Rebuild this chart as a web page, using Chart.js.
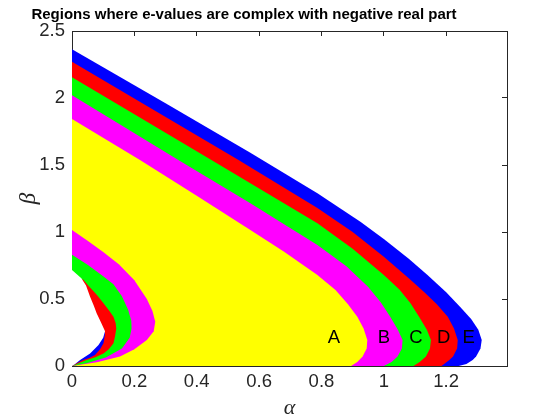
<!DOCTYPE html>
<html>
<head>
<meta charset="utf-8">
<script src="https://cdn.jsdelivr.net/npm/chart.js@4.4.1/dist/chart.umd.min.js"></script>
<style>
  html, body { margin: 0; padding: 0; background: #ffffff; }
  canvas { display: block; }
</style>
</head>
<body>
<canvas id="c" width="560" height="420"></canvas>
<script>
// ---- Data (alpha = x, beta = y) ----
const chartTitle = 'Regions where e-values are complex with negative real part';
const xTicks = [0, 0.2, 0.4, 0.6, 0.8, 1, 1.2];
const yTicks = [0, 0.5, 1, 1.5, 2, 2.5];

// Outer boundaries (curve from beta axis, around the nose, back to beta = 0)
const blueOuterA = [0, 0.3, 0.572, 0.787, 0.926, 1.001, 1.08, 1.14, 1.2, 1.245, 1.28, 1.303, 1.314, 1.31, 1.296, 1.285, 1.265, 1.24, 0];
const blueOuterB = [2.363, 1.96, 1.592, 1.29, 1.075, 0.945, 0.8, 0.68, 0.55, 0.44, 0.35, 0.27, 0.194, 0.13, 0.07, 0.045, 0.015, 0, 0];

const redOuterA = [0, 0.25, 0.534, 0.787, 0.9, 1.0, 1.08, 1.13, 1.17, 1.205, 1.225, 1.237, 1.235, 1.222, 1.21, 1.185, 0];
const redOuterB = [2.27, 1.927, 1.537, 1.18, 1.0, 0.815, 0.655, 0.55, 0.46, 0.368, 0.28, 0.194, 0.13, 0.07, 0.045, 0, 0];

const greenOuterA = [0, 0.2, 0.447, 0.572, 0.787, 0.9, 1.0, 1.05, 1.085, 1.113, 1.138, 1.151, 1.148, 1.135, 1.115, 1.095, 0];
const greenOuterB = [2.154, 1.878, 1.537, 1.363, 1.065, 0.875, 0.68, 0.57, 0.47, 0.368, 0.27, 0.194, 0.13, 0.07, 0.03, 0, 0];

const magentaOuterA = [0, 0.17, 0.341, 0.572, 0.787, 0.88, 0.95, 0.99, 1.02, 1.045, 1.06, 1.058, 1.044, 1.025, 1.0, 0];
const magentaOuterB = [2.02, 1.78, 1.537, 1.214, 0.903, 0.745, 0.59, 0.475, 0.37, 0.27, 0.194, 0.13, 0.07, 0.03, 0, 0];

const yellowOuterA = [0, 0.218, 0.4, 0.572, 0.679, 0.787, 0.845, 0.885, 0.915, 0.935, 0.947, 0.945, 0.932, 0.915, 0.895, 0];
const yellowOuterB = [1.843, 1.537, 1.27, 1.015, 0.855, 0.68, 0.567, 0.46, 0.368, 0.28, 0.194, 0.13, 0.07, 0.03, 0, 0];

// Inner boundaries near the origin
const magentaInnerA = [0, 0.05, 0.1, 0.15, 0.2, 0.24, 0.258, 0.267, 0.262, 0.24, 0.2, 0.154, 0.08, 0];
const magentaInnerB = [1.015, 0.935, 0.85, 0.76, 0.64, 0.5, 0.41, 0.33, 0.26, 0.194, 0.125, 0.07, 0.028, 0];

const greenInnerA = [0, 0.05, 0.1, 0.133, 0.16, 0.18, 0.19, 0.191, 0.185, 0.16, 0.11, 0.05, 0];
const greenInnerB = [0.83, 0.755, 0.67, 0.61, 0.52, 0.42, 0.34, 0.28, 0.21, 0.13, 0.065, 0.022, 0];

const redInnerA = [0, 0.036, 0.052, 0.08, 0.101, 0.12, 0.133, 0.14, 0.142, 0.138, 0.133, 0.118, 0.101, 0.075, 0.047, 0];
const redInnerB = [0.645, 0.645, 0.6, 0.53, 0.468, 0.41, 0.368, 0.32, 0.28, 0.22, 0.169, 0.125, 0.094, 0.065, 0.045, 0];

const blueInnerA = [0.1, 0.106, 0.104, 0.101, 0.09, 0.074, 0.055, 0.036, 0.015, 0];
const blueInnerB = [0.27, 0.244, 0.21, 0.169, 0.125, 0.082, 0.06, 0.045, 0.02, 0];

const whiteInnerA = [0, 0.03, 0.045, 0.058, 0.07, 0.079, 0.092, 0.106, 0.1, 0.085, 0.058, 0.026, 0.01, 0];
const whiteInnerB = [0.716, 0.654, 0.6, 0.517, 0.45, 0.393, 0.33, 0.26, 0.21, 0.157, 0.094, 0.045, 0.015, 0];

// Region labels
const regionLabels = ['A', 'B', 'C', 'D', 'E'];
const labelAlpha = [0.84, 1.0, 1.103, 1.192, 1.272];
const labelBeta = [0.207, 0.207, 0.207, 0.207, 0.207];

// ---- Build chart ----
function pts(A, B) { return A.map((a, i) => ({ x: a, y: B[i] })); }

const layers = [
  { A: blueOuterA, B: blueOuterB, color: '#0000ff' },
  { A: redOuterA, B: redOuterB, color: '#ff0000' },
  { A: greenOuterA, B: greenOuterB, color: '#00ff00' },
  { A: magentaOuterA, B: magentaOuterB, color: '#ff00ff' },
  { A: yellowOuterA, B: yellowOuterB, color: '#ffff00' },
  { A: magentaInnerA, B: magentaInnerB, color: '#ff00ff' },
  { A: greenInnerA, B: greenInnerB, color: '#00ff00' },
  { A: redInnerA, B: redInnerB, color: '#ff0000' },
  { A: blueInnerA, B: blueInnerB, color: '#0000ff' },
  { A: whiteInnerA, B: whiteInnerB, color: '#ffffff' }
];

const datasets = layers.map((L, i) => ({
  data: pts(L.A, L.B),
  showLine: true,
  fill: 'shape',
  backgroundColor: L.color,
  borderColor: 'rgba(0,0,0,0)',
  borderWidth: 0,
  pointRadius: 0,
  pointHoverRadius: 0,
  tension: 0,
  order: layers.length - i
}));

const axisColor = '#262626';
const tickFont = { family: '"Liberation Sans", Arial, sans-serif', size: 18.5 };

const titlePlacer = {
  id: 'titlePlacer',
  afterLayout(chart) {
    if (chart.titleBlock) {
      chart.titleBlock.left = 0;
      chart.titleBlock.right = 488;
    }
  }
};

const regionText = {
  id: 'regionText',
  afterDatasetsDraw(chart) {
    const ctx = chart.ctx;
    const xs = chart.scales.x, ys = chart.scales.y;
    ctx.save();
    ctx.fillStyle = '#000000';
    ctx.font = '18.5px "Liberation Sans", Arial, sans-serif';
    ctx.textAlign = 'center';
    ctx.textBaseline = 'middle';
    regionLabels.forEach((t, i) => {
      ctx.fillText(t, xs.getPixelForValue(labelAlpha[i]), ys.getPixelForValue(labelBeta[i]));
    });
    ctx.restore();
  }
};

function setTicks(list) {
  return (s) => { s.ticks = list.map(v => ({ value: v })); };
}

new Chart(document.getElementById('c'), {
  type: 'line',
  data: { datasets },
  plugins: [titlePlacer, regionText],
  options: {
    responsive: false,
    animation: false,
    devicePixelRatio: 1,
    events: [],
    layout: { padding: { left: 0, right: 53, top: 0, bottom: 0 } },
    plugins: {
      legend: { display: false },
      tooltip: { enabled: false },
      title: {
        display: true,
        text: chartTitle,
        color: '#000000',
        font: { family: '"Liberation Sans", Arial, sans-serif', size: 15, weight: 'bold', lineHeight: 1.2 },
        padding: { top: 6, bottom: 7 }
      }
    },
    scales: {
      x: {
        type: 'linear',
        position: 'bottom',
        min: 0,
        max: 1.395,
        afterBuildTicks: setTicks(xTicks),
        afterFit: (s) => { s.height = 54; },
        ticks: { color: axisColor, font: tickFont, padding: 10, maxRotation: 0, autoSkip: false, callback: (v) => String(v) },
        grid: { drawOnChartArea: false, tickLength: -5, color: axisColor, lineWidth: 1 },
        border: { display: true, color: axisColor, width: 1 },
        title: {
          display: true,
          text: 'α',
          color: axisColor,
          font: { family: '"Liberation Serif", "DejaVu Serif", serif', style: 'italic', size: 22, lineHeight: 1 },
          padding: { top: 0, bottom: 1 }
        }
      },
      y: {
        type: 'linear',
        position: 'left',
        min: 0,
        max: 2.5,
        afterBuildTicks: setTicks(yTicks),
        afterFit: (s) => { s.width = 72; },
        ticks: { color: axisColor, font: tickFont, padding: 12, autoSkip: false, callback: (v) => String(v) },
        grid: { drawOnChartArea: false, tickLength: -5, color: axisColor, lineWidth: 1 },
        border: { display: true, color: axisColor, width: 1 },
        title: {
          display: true,
          text: 'β',
          color: axisColor,
          font: { family: '"Liberation Serif", "DejaVu Serif", serif', style: 'italic', size: 23, lineHeight: 1 },
          padding: { top: 17, bottom: 0 }
        }
      },
      x2: {
        type: 'linear',
        position: 'top',
        min: 0,
        max: 1.395,
        afterBuildTicks: setTicks(xTicks),
        afterFit: (s) => { s.height = 0; },
        ticks: { display: false },
        grid: { drawOnChartArea: false, tickLength: -5, color: axisColor, lineWidth: 1 },
        border: { display: true, color: axisColor, width: 1 }
      },
      y2: {
        type: 'linear',
        position: 'right',
        min: 0,
        max: 2.5,
        afterBuildTicks: setTicks(yTicks),
        afterFit: (s) => { s.width = 0; },
        ticks: { display: false },
        grid: { drawOnChartArea: false, tickLength: -5, color: axisColor, lineWidth: 1 },
        border: { display: true, color: axisColor, width: 1 }
      }
    }
  }
});
</script>
</body>
</html>
